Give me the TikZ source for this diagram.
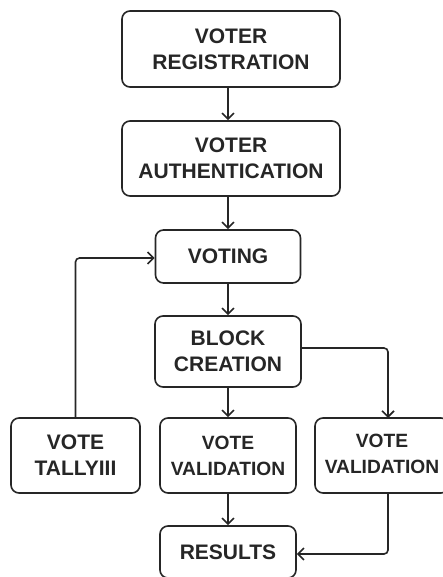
\documentclass[tikz,border=0pt]{standalone}
\usepackage{fontspec}
\setmainfont{Liberation Sans}
\usetikzlibrary{arrows.meta}
\begin{document}
\begin{tikzpicture}[x=1pt,y=-1pt,
  box/.style={draw=black!85, line width=1.6pt, rounded corners=8pt, align=center,
    font=\fontsize{21}{26}\selectfont\bfseries, text=black!85, inner sep=0pt},
  valbox/.style={box, font=\fontsize{19.2}{26}\selectfont\bfseries},
  conn/.style={draw=black!85, line width=1.6pt, -{Straight Barb[length=6pt,width=12pt,line width=1.6pt]}}]
\useasboundingbox (0,0) rectangle (443,577);
\fill[white] (0,0) rectangle (443,577);
\node[box, minimum width=218pt, minimum height=76pt] (reg) at (231,49) {VOTER\\REGISTRATION};
\node[box, minimum width=218pt, minimum height=75pt] (auth) at (231,158.5) {VOTER\\AUTHENTICATION};
\node[box, minimum width=145pt, minimum height=53pt] (vot) at (228,256.5) {VOTING};
\node[box, minimum width=146pt, minimum height=71pt] (blk) at (228,351.5) {BLOCK\\CREATION};
\node[box, minimum width=129pt, minimum height=75pt] (tal) at (75.5,455.5) {VOTE\\TALLYIII};
\node[valbox, minimum width=136pt, minimum height=75pt] (val1) at (228,455.5) {VOTE\\VALIDATION};
\node[valbox, minimum width=134pt, minimum height=75pt] (val2) at (382,455.5) {\raisebox{3pt}{VOTE}\\\raisebox{3pt}{VALIDATION}};
\node[box, minimum width=136pt, minimum height=52pt] (res) at (228,552) {RESULTS};
\coordinate (v2top) at (388,418);
\coordinate (v2bot) at (388,493);
\draw[conn] (reg.south -| vot.center) -- (auth.north -| vot.center);
\draw[conn] (auth.south -| vot.center) -- (vot.north);
\draw[conn] (vot.south) -- (blk.north);
\draw[conn] (blk.south) -- (val1.north);
\draw[conn] (val1.south) -- (res.north);
\draw[conn, rounded corners=4pt] (tal.north) |- ([yshift=-1.5pt]vot.west);
\draw[conn, rounded corners=4pt] ([yshift=3.5pt]blk.east) -| (v2top);
\draw[conn, rounded corners=4pt] (v2bot) |- ([yshift=-2pt]res.east);
\end{tikzpicture}
\end{document}
